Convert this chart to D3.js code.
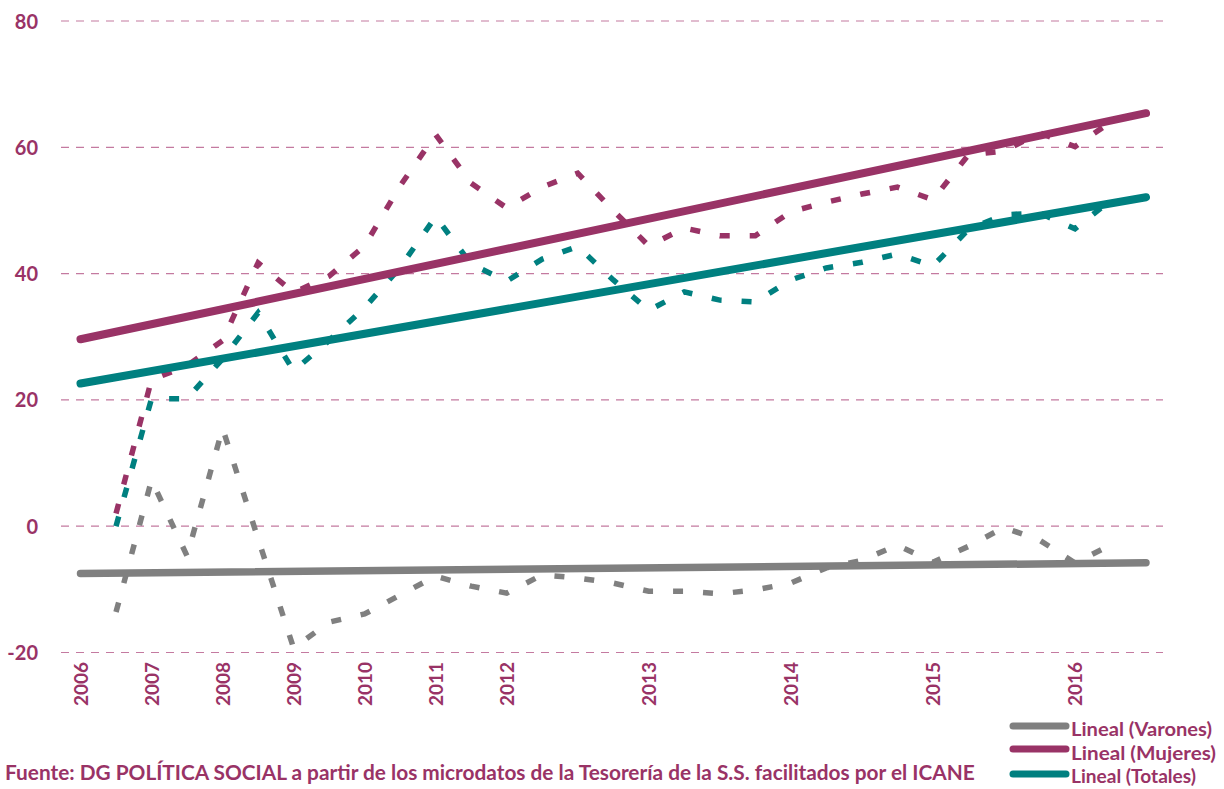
<!DOCTYPE html>
<html><head><meta charset="utf-8">
<script src="https://cdn.jsdelivr.net/npm/d3@7"></script>
<style>
html,body{margin:0;padding:0;background:#fff;}
svg{display:block;}
text{font-family:Lato,"Open Sans",sans-serif;}
</style></head>
<body>
<svg id="chart" width="1224" height="789"></svg>
<script>
// ---- data ----
const periodLabels = ["2006","","2007","","2008","","2009","","2010","","2011","","2012","","","","2013","","","","2014","","","","2015","","","","2016","",""];
const varones = [null,-13.6,7.3,-4.7,15.5,-2.0,-19.3,-15.2,-13.9,-10.9,-7.9,-9.5,-10.6,-7.7,-8.2,-9.0,-10.3,-10.3,-10.7,-10.1,-9.0,-6.6,-5.4,-3.0,-5.7,-3.2,-0.2,-2.2,-5.8,-3.0,null];
const mujeres = [null,2.0,23.2,25.4,29.4,41.7,37.0,39.6,44.4,53.9,62.0,54.3,50.4,53.7,55.9,50.0,44.4,47.2,46.0,46.0,49.8,51.3,52.6,53.7,51.7,58.8,59.4,62.3,60.1,64.0,null];
const totales = [null,0.0,20.2,20.2,26.5,33.8,24.6,29.4,34.6,41.0,49.0,41.5,38.8,42.3,44.3,39.0,34.2,37.1,35.8,35.5,39.0,40.9,41.8,43.1,41.2,47.0,49.3,49.6,47.1,51.6,null];
// linear trend lines: value at first and last period
const trendVarones = [-7.5, -5.8];
const trendMujeres = [29.6, 65.4];
const trendTotales = [22.6, 52.1];
const yTicks = [-20, 0, 20, 40, 60, 80];
const legendLabels = ["Lineal (Varones)", "Lineal (Mujeres)", "Lineal (Totales)"];
const sourceText = "Fuente: DG POLÍTICA SOCIAL a partir de los microdatos de la Tesorería de la S.S. facilitados por el ICANE";

// ---- drawing ----
const C_GRAY = "#808080", C_MAG = "#993366", C_TEAL = "#008080", C_TEXT = "#993366", C_GRID = "#c47aa0";
const svg = d3.select("#chart");
const idx = d3.range(periodLabels.length);
const x = d3.scalePoint().domain(idx).range([80.5, 1146]);
const y = d3.scaleLinear().domain([-20, 80]).range([652.5, 21]);

// gridlines
const grid = svg.append("g");
grid.selectAll("line").data(yTicks).join("line")
  .attr("x1", 61).attr("x2", 1163)
  .attr("y1", d => y(d)).attr("y2", d => y(d))
  .attr("stroke", C_GRID).attr("stroke-width", 1.2)
  .attr("stroke-dasharray", "8,7");

// y axis labels
const yAxis = d3.axisLeft(y).tickValues(yTicks).tickFormat(d => String(d)).tickSize(0).tickPadding(0);
const yg = svg.append("g").attr("transform", "translate(38,0)").call(yAxis);
yg.select(".domain").remove();
yg.selectAll("text").attr("fill", C_TEXT).attr("font-size", 20).attr("font-weight", "bold")
  .attr("font-family", "Lato, sans-serif").attr("dy", "0.35em");

// x axis labels (rotated)
const xAxis = d3.axisBottom(x).tickFormat(i => periodLabels[i]).tickSize(0).tickPadding(0);
const xg = svg.append("g").attr("transform", "translate(0,662)").call(xAxis);
xg.select(".domain").remove();
xg.selectAll("text").attr("fill", C_TEXT).attr("font-size", 19).attr("font-weight", "bold")
  .attr("font-family", "Lato, sans-serif")
  .attr("transform", "rotate(-90)").attr("text-anchor", "end")
  .attr("x", 0).attr("y", 0).attr("dy", "0.36em");

// dashed series
const series = [[varones, C_GRAY], [mujeres, C_MAG], [totales, C_TEAL]];
series.forEach(([vals, col]) => {
  svg.append("path").datum(vals)
    .attr("d", d3.line().defined(d => d != null).x((d, i) => x(i)).y(d => y(d)))
    .attr("fill", "none").attr("stroke", col).attr("stroke-width", 5.5)
    .attr("stroke-dasharray", "10,20").attr("stroke-linejoin", "miter");
});

// trend lines
const last = idx.length - 1;
[[trendVarones, C_GRAY, 7.5], [trendMujeres, C_MAG, 8], [trendTotales, C_TEAL, 8]].forEach(([t, col, w]) => {
  svg.append("line")
    .attr("x1", x(0)).attr("y1", y(t[0]))
    .attr("x2", x(last)).attr("y2", y(t[1]))
    .attr("stroke", col).attr("stroke-width", w).attr("stroke-linecap", "round");
});

// legend
const legCols = [C_GRAY, C_MAG, C_TEAL];
const legY = [726, 749, 774];
const legBase = [736, 760, 783];
const lg = svg.append("g");
legendLabels.forEach((lab, i) => {
  lg.append("line").attr("x1", 1013).attr("x2", 1066).attr("y1", legY[i]).attr("y2", legY[i])
    .attr("stroke", legCols[i]).attr("stroke-width", 7).attr("stroke-linecap", "round");
  const t = lg.append("text").attr("x", 1071).attr("y", legBase[i]).text(lab)
    .attr("fill", C_TEXT).attr("font-size", 18).attr("font-weight", "bold")
    .attr("font-family", "Lato, sans-serif");
  const tw = t.node().getComputedTextLength();
  const target = i === 1 ? 145 : (i === 0 ? 141 : 125);
  t.attr("textLength", target).attr("lengthAdjust", "spacingAndGlyphs");
});

// source
const src = svg.append("text").attr("x", 5).attr("y", 780).text(sourceText)
  .attr("fill", C_TEXT).attr("font-size", 18).attr("font-weight", "bold")
  .attr("font-family", "Lato, sans-serif");
const w = src.node().getComputedTextLength();
src.attr("font-size", 18 * 970 / w);
</script>
</body></html>
